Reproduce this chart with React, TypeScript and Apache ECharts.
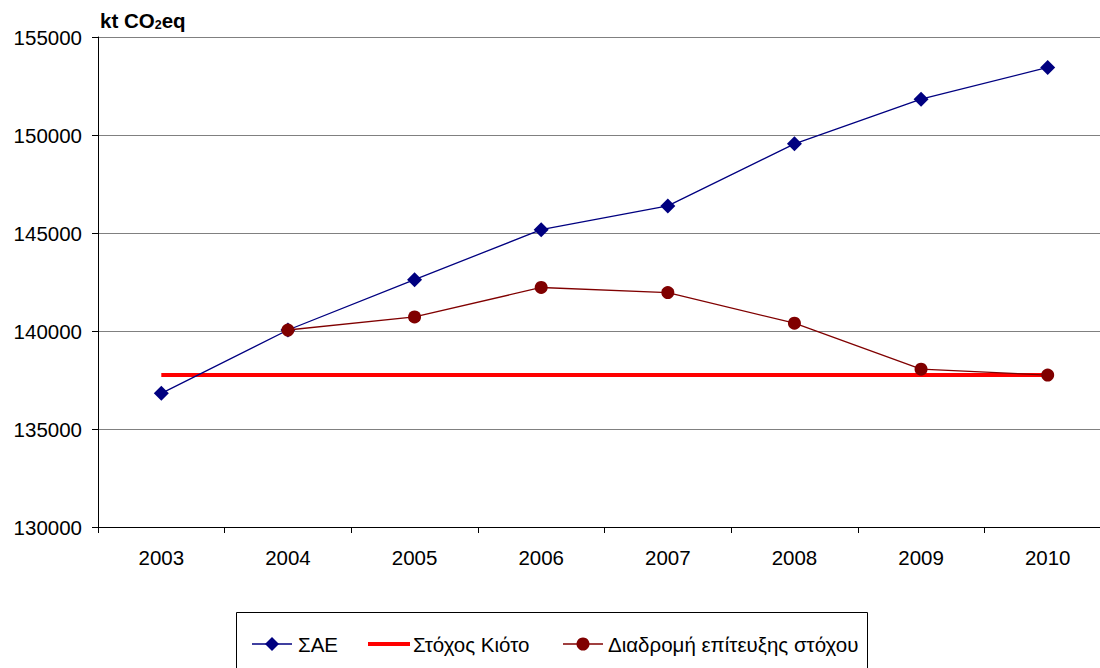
import React, { useEffect, useRef } from "react";
import * as echarts from "echarts";

const years = ["2003", "2004", "2005", "2006", "2007", "2008", "2009", "2010"];
const sae = [136820, 140050, 142620, 145170, 146380, 149550, 151830, 153450];
const kyoto = [137750, 137750, 137750, 137750, 137750, 137750, 137750, 137750];
const pathToTarget = [null, 140050, 140720, 142220, 141960, 140400, 138050, 137750];
const legendNames = ["ΣΑΕ", "Στόχος Κιότο", "Διαδρομή επίτευξης στόχου"];

const FONT = "Liberation Sans, Arial, sans-serif";
const NAVY = "#000080";
const RED = "#ff0000";
const MAROON = "#800000";

export default function App() {
  const ref = useRef<HTMLDivElement>(null);
  useEffect(() => {
    if (!ref.current) return;
    const chart = echarts.init(ref.current, null, { renderer: "svg" });
    const ly = 644;
    const legendText = (x: number, t: string) => ({
      type: "text",
      x,
      y: ly,
      style: { text: t, fontFamily: FONT, fontSize: 20.5, fill: "#000", textVerticalAlign: "middle", textAlign: "left" },
    });
    chart.setOption({
      animation: false,
      backgroundColor: "#ffffff",
      textStyle: { fontFamily: FONT },
      title: {
        left: 95,
        top: 5,
        text: "{a|kt CO}{b|2}{a|eq}",
        textStyle: {
          rich: {
            a: { fontFamily: FONT, fontWeight: "bold", fontSize: 20.5, color: "#000", verticalAlign: "bottom" },
            b: { fontFamily: FONT, fontWeight: "bold", fontSize: 12.5, color: "#000", padding: [8, 0, 0, 0], verticalAlign: "bottom" },
          },
        },
      },
      grid: { left: 98, top: 37, width: 1013, height: 490, containLabel: false, outerBoundsMode: "none" },
      graphic: [
        {
          type: "rect",
          shape: { x: 236.5, y: 612.5, width: 631, height: 80 },
          style: { fill: "#fff", stroke: "#000", lineWidth: 1 },
        },
        { type: "line", shape: { x1: 252, y1: ly, x2: 292, y2: ly }, style: { stroke: NAVY, lineWidth: 1.3 } },
        { type: "polygon", shape: { points: [[272, ly - 7], [279, ly], [272, ly + 7], [265, ly]] }, style: { fill: NAVY } },
        legendText(298, legendNames[0]),
        { type: "line", shape: { x1: 368, y1: ly, x2: 410, y2: ly }, style: { stroke: RED, lineWidth: 4 } },
        legendText(413, legendNames[1]),
        { type: "line", shape: { x1: 563, y1: ly, x2: 603, y2: ly }, style: { stroke: MAROON, lineWidth: 1.3 } },
        { type: "circle", shape: { cx: 583, cy: ly, r: 6.5 }, style: { fill: MAROON } },
        legendText(608, legendNames[2]),
      ],
      xAxis: {
        type: "category",
        data: years,
        boundaryGap: true,
        axisLine: { lineStyle: { color: "#000", width: 1 } },
        axisTick: { show: true, length: 6, inside: false, lineStyle: { color: "#000" } },
        axisLabel: { color: "#000", fontSize: 20.5, fontFamily: FONT, margin: 20 },
        splitLine: { show: false },
      },
      yAxis: {
        type: "value",
        min: 130000,
        max: 155000,
        interval: 5000,
        axisLine: { show: true, lineStyle: { color: "#000", width: 1 } },
        axisTick: { show: true, length: 6, lineStyle: { color: "#000" } },
        axisLabel: { color: "#000", fontSize: 20.5, fontFamily: FONT, margin: 16, formatter: (v: number) => String(v) },
        splitLine: { show: true, lineStyle: { color: "#808080", width: 1 } },
      },
      series: [
        {
          name: legendNames[0],
          type: "line",
          data: sae,
          symbol: "diamond",
          symbolSize: 15,
          lineStyle: { color: NAVY, width: 1.3 },
          itemStyle: { color: NAVY },
          z: 3,
        },
        {
          name: legendNames[1],
          type: "line",
          data: kyoto,
          symbol: "none",
          lineStyle: { color: RED, width: 4 },
          itemStyle: { color: RED },
          z: 2,
        },
        {
          name: legendNames[2],
          type: "line",
          data: pathToTarget,
          symbol: "circle",
          symbolSize: 13,
          lineStyle: { color: MAROON, width: 1.3 },
          itemStyle: { color: MAROON },
          z: 4,
        },
      ],
    });
    return () => chart.dispose();
  }, []);
  return (
    <div
      ref={ref}
      style={{ position: "fixed", left: 0, top: 0, width: 1100, height: 668, background: "#fff" }}
    />
  );
}
